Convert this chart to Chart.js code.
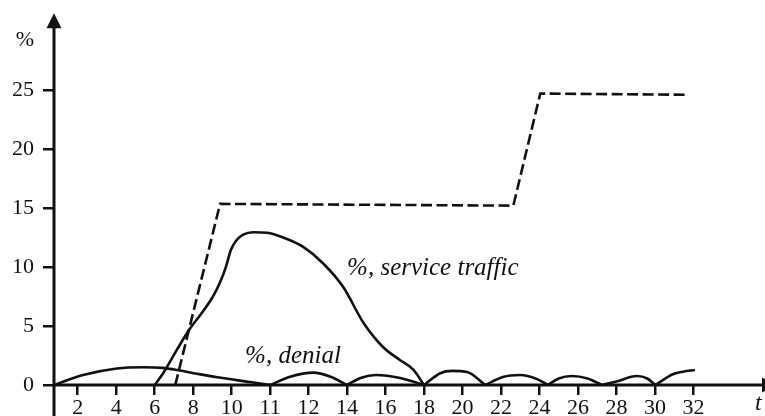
<!DOCTYPE html>
<html>
<head>
<meta charset="utf-8">
<style>
  html, body { margin: 0; padding: 0; background: #fff; }
  #wrap { width: 765px; height: 416px; position: relative; }
</style>
<script src="https://cdn.jsdelivr.net/npm/chart.js@4.4.1/dist/chart.umd.min.js"></script>
</head>
<body>
<div id="wrap"><canvas id="chart" width="765" height="416"></canvas></div>
<script>
// Time axis tick labels (note the uneven step around 10-12)
const tickLabels = [2, 4, 6, 8, 10, 11, 12, 14, 16, 18, 20, 22, 24, 26, 28, 30, 32];
const yTickValues = [0, 5, 10, 15, 20, 25];

// Dashed limit line
const limitT = [7.07, 9.40, 22.64, 24.04, 31.64];
const limitV = [0, 15.35, 15.2, 24.7, 24.6];

// %, service traffic
const serviceT = [6.0, 6.44, 7.16, 7.8, 8.4, 9.03, 9.4, 9.72, 9.95, 10.12, 10.3, 10.56, 10.92, 11.34, 11.86, 12.76, 13.8, 14.84, 15.88, 16.76, 17.44, 18.0];
const serviceV = [0, 1.0, 3.0, 4.7, 6.0, 7.5, 8.7, 10.1, 11.4, 12.25, 12.75, 12.95, 12.9, 12.5, 11.7, 10.3, 8.3, 5.3, 3.2, 2.1, 1.3, 0];

// %, denial
const denialT = [0.77, 2.28, 4.04, 5.4, 6.4, 7.17, 8.2, 9.25, 10.48, 11.0,
                 11.52, 12.24, 13.14, 14.0,
                 14.7, 15.5, 16.76, 18.0,
                 18.84, 19.46, 20.24, 21.18,
                 22.1, 22.98, 23.88, 24.44,
                 25.0, 25.68, 26.5, 27.24,
                 28.0, 29.06, 29.6, 30.02,
                 30.96, 31.46, 32.08];
const denialV = [0, 0.85, 1.4, 1.5, 1.45, 1.27, 0.95, 0.65, 0.25, 0,
                 0.7, 1.05, 0.7, 0,
                 0.6, 0.85, 0.6, 0,
                 1.0, 1.2, 1.1, 0,
                 0.68, 0.85, 0.5, 0,
                 0.55, 0.76, 0.55, 0,
                 0.3, 0.76, 0.55, 0,
                 0.93, 1.13, 1.27];

// Text placed on the plot (anchored in axis units)
const notes = [
  { text: '%, service traffic', t: 14.0, v: 9.32 },
  { text: '%, denial', t: 10.35, v: 1.86 }
];

// Position along the drawn axis for a time value (ticks are evenly spaced)
function toPos(t) {
  const n = tickLabels.length;
  if (t <= tickLabels[0]) return 1 - (tickLabels[0] - t) / (tickLabels[1] - tickLabels[0]);
  for (let i = 1; i < n; i++) {
    if (t <= tickLabels[i]) return i + (t - tickLabels[i - 1]) / (tickLabels[i] - tickLabels[i - 1]);
  }
  return n + (t - tickLabels[n - 1]) / (tickLabels[n - 1] - tickLabels[n - 2]);
}

function points(ts, vs) {
  return ts.map((t, i) => ({ x: toPos(t), y: vs[i] }));
}

// Break a curve into arches wherever it touches a local minimum (sharp cusps)
function arches(ts, vs) {
  const parts = [];
  let cur = [];
  for (let i = 0; i < ts.length; i++) {
    const p = { x: toPos(ts[i]), y: vs[i] };
    cur.push(p);
    if (i > 0 && i < ts.length - 1 && vs[i] <= vs[i - 1] && vs[i] <= vs[i + 1]) {
      parts.push(cur);
      cur = [p];
    }
  }
  parts.push(cur);
  return parts;
}

const INK = '#111';
const SERIF = '"Liberation Serif", "Times New Roman", serif';
Chart.defaults.font.family = SERIF;
Chart.defaults.color = INK;

const curveStyle = {
  borderColor: INK, borderWidth: 2.6, pointRadius: 0, fill: false,
  cubicInterpolationMode: 'monotone'
};

const datasets = [
  {
    data: points(limitT, limitV),
    borderColor: INK, borderWidth: 2.6, pointRadius: 0, fill: false,
    tension: 0, borderDash: [11, 4.5], borderJoinStyle: 'miter'
  },
  Object.assign({ data: points(serviceT, serviceV) }, curveStyle),
  ...arches(denialT, denialV).map(seg => Object.assign({ data: seg }, curveStyle))
];

// Axis lines with arrow heads, and the free text labels
const axesPlugin = {
  id: 'arrowAxes',
  beforeDatasetsDraw(chart) {
    const { ctx, scales: { x, y } } = chart;
    const ox = x.getPixelForValue(x.min);
    const oy = y.getPixelForValue(0);
    const tipY = y.getPixelForValue(31.5);
    const endX = chart.width - 3;
    ctx.save();
    ctx.strokeStyle = INK;
    ctx.fillStyle = INK;
    ctx.lineWidth = 3;
    ctx.beginPath();
    ctx.moveTo(ox, chart.height);
    ctx.lineTo(ox, tipY + 10);
    ctx.moveTo(ox - 1.5, oy);
    ctx.lineTo(endX, oy);
    ctx.stroke();
    // arrow on the value axis
    ctx.beginPath();
    ctx.moveTo(ox, tipY);
    ctx.lineTo(ox - 7.5, tipY + 15);
    ctx.lineTo(ox + 7.5, tipY + 15);
    ctx.closePath();
    ctx.fill();
    // arrow on the time axis
    ctx.beginPath();
    ctx.moveTo(endX, oy - 7.5);
    ctx.lineTo(endX + 15, oy);
    ctx.lineTo(endX, oy + 7.5);
    ctx.closePath();
    ctx.fill();
    ctx.restore();
  },
  afterDraw(chart) {
    const { ctx, scales: { x, y } } = chart;
    ctx.save();
    ctx.fillStyle = INK;
    ctx.textBaseline = 'alphabetic';
    ctx.textAlign = 'left';
    ctx.font = 'italic 25px ' + SERIF;
    notes.forEach(n => {
      ctx.fillText(n.text, x.getPixelForValue(toPos(n.t)), y.getPixelForValue(n.v));
    });
    // axis names
    ctx.font = 'italic 24px ' + SERIF;
    ctx.fillText('t', x.getPixelForValue(18.6), y.getPixelForValue(-2.1));
    ctx.font = '22px ' + SERIF;
    ctx.textAlign = 'right';
    ctx.textBaseline = 'middle';
    ctx.fillText('%', 34, y.getPixelForValue(29.2));
    ctx.restore();
  }
};

new Chart(document.getElementById('chart'), {
  type: 'line',
  data: { datasets },
  plugins: [axesPlugin],
  options: {
    responsive: false,
    devicePixelRatio: 1,
    animation: false,
    layout: { padding: 0 },
    plugins: { legend: { display: false }, tooltip: { enabled: false } },
    scales: {
      x: {
        type: 'linear',
        min: 0.384,
        max: 18.86,
        afterBuildTicks: s => { s.ticks = tickLabels.map((_, i) => ({ value: i + 1 })); },
        afterFit: s => { s.height = 31; s.paddingLeft = 0; s.paddingRight = 0; },
        ticks: {
          autoSkip: false, maxRotation: 0, padding: 0,
          font: { size: 22 },
          color: INK,
          callback: v => tickLabels[Math.round(v) - 1]
        },
        grid: { display: true, drawOnChartArea: false, drawTicks: true, tickLength: 10, lineWidth: 2.5, color: INK },
        border: { display: false }
      },
      y: {
        type: 'linear',
        min: 0,
        max: 385 / 11.8,
        afterBuildTicks: s => { s.ticks = yTickValues.map(v => ({ value: v })); },
        afterFit: s => { s.width = 54; s.paddingTop = 0; s.paddingBottom = 0; },
        ticks: { padding: 9, font: { size: 22 }, color: INK },
        grid: { display: true, drawOnChartArea: false, drawTicks: true, tickLength: 11, lineWidth: 2.5, color: INK },
        border: { display: false }
      }
    }
  }
});
</script>
</body>
</html>
